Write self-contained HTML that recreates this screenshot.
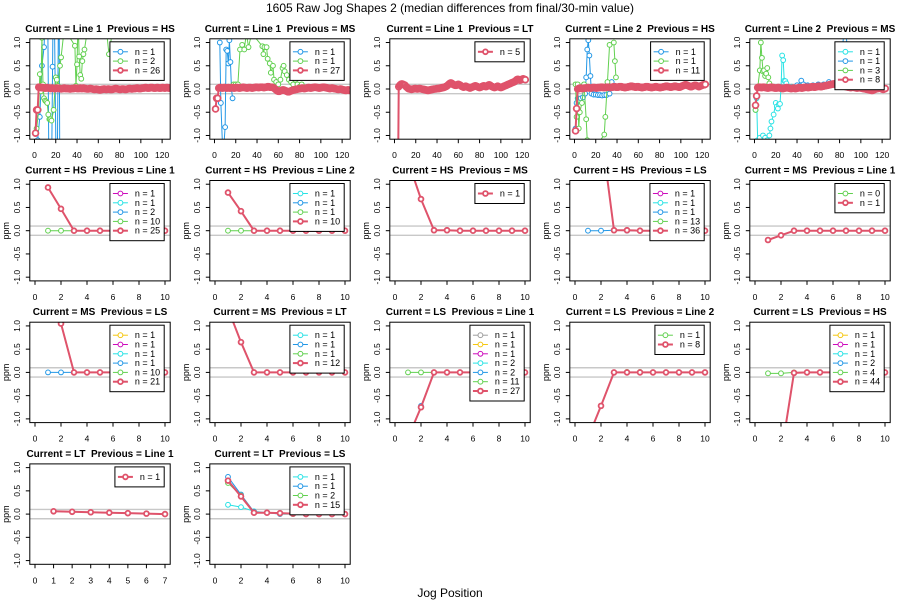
<!DOCTYPE html>
<html><head><meta charset="utf-8"><style>
html,body{margin:0;padding:0;background:#fff}
svg{display:block;font-family:"Liberation Sans",sans-serif}
</style></head><body>
<svg id="chart" width="900" height="600" viewBox="0 0 900 600">
<text x="450" y="12" text-anchor="middle" font-size="12">1605 Raw Jog Shapes 2 (median differences from final/30-min value)</text>
<text x="450" y="597" text-anchor="middle" font-size="12">Jog Position</text>
</svg>
<script>
// ---------- data ----------
const yTicks = [-1, -0.5, 0, 0.5, 1];
const yTickLabels = ["-1.0", "-0.5", "0.0", "0.5", "1.0"];
const xTicksLong = [0, 20, 40, 60, 80, 100, 120];
const xTicksShort = [0, 2, 4, 6, 8, 10];
const xTicksSeven = [0, 1, 2, 3, 4, 5, 6, 7];
const refLines = [-0.1, 0.1];

// row 1 dense red series (hundredths, positions 1..n)
const p1Red = [-95,-45,-45,4,4,3,3,3,2,2,2,3,2,2,1,2,2,1,1,1,2,2,1,1,0,1,1,2,1,1,1,1,0,0,1,1,1,2,2,1,1,1,2,1,1,2,1,1,0,0,0,1,1,0,0,-1,-1,0,-1,-1,-2,-2,-1,-1,0,0,-1,-1,0,0,-1,-1,-1,0,0,1,1,0,0,-1,-1,0,0,0,-1,-1,0,0,1,1,0,0,1,1,1,2,2,1,1,1,2,2,2,3,3,2,2,2,3,3,3,2,2,2,3,3,2,2,2,3,3,2,2,3,3,2,2,2,1,1];
const p2Red = [-43,-20,-20,2,3,3,2,2,3,3,2,2,3,2,2,3,3,2,2,3,3,3,2,2,3,3,4,3,3,2,2,3,3,3,2,2,3,3,4,4,3,3,4,4,4,3,3,4,4,5,5,4,4,4,3,2,0,-2,-4,-5,-5,-4,-3,-2,-2,-3,-4,-5,-6,-6,-5,-4,-3,-2,-2,-1,-1,0,0,1,1,2,2,1,1,2,2,3,3,2,2,3,3,4,4,3,3,2,2,3,3,4,4,3,3,2,2,1,1,2,2,1,1,0,0,-1,-1,0,0,-1,-2,-2,-3,-3,-2,-2,-3,-3,-2];
const p3Red = [-300,-300,-300,5,8,10,11,10,9,8,5,3,1,0,0,-1,0,0,1,1,0,0,1,1,0,0,-1,-1,-2,-2,-3,-3,-2,-2,-1,-1,0,0,0,1,1,1,2,2,3,3,4,5,6,8,10,12,13,12,10,9,8,8,9,10,9,8,6,5,4,5,6,5,4,3,2,3,4,5,6,7,6,5,4,3,4,5,6,7,6,5,6,8,9,8,6,5,4,3,4,5,6,5,4,3,4,5,6,7,8,9,10,11,12,13,14,15,16,18,20,21,20,19,20,21,22,21,20];
const p4Red = [-90,-42,0,1,2,2,1,1,2,2,2,3,3,2,2,2,3,3,3,2,2,3,3,3,4,4,3,3,3,4,4,4,3,3,4,4,5,5,4,4,4,5,5,5,4,4,3,3,4,4,5,5,6,6,5,5,4,4,5,5,4,4,3,3,4,4,5,5,5,4,4,3,3,4,4,5,5,4,4,3,3,4,4,5,5,6,6,5,5,4,4,5,5,6,6,5,5,4,4,5,6,7,8,9,9,8,7,6,5,5,6,7,8,8,7,6,5,6,7,8,9,9,10];
const p5Red = [-35,-15,3,4,4,3,3,4,4,3,3,2,2,3,3,4,3,3,2,2,2,3,3,2,2,1,1,2,2,3,3,2,2,1,1,2,2,1,1,2,2,3,3,2,2,3,3,4,4,3,3,4,4,5,5,4,4,5,5,6,6,5,5,6,6,7,7,8,8,9,9,10,10,11,11,10,10,9,9,8,8,7,7,6,6,5,5,4,4,3,3,4,4,3,3,2,2,3,3,2,2,1,1,0,0,-1,-1,-2,-2,-3,-3,-2,-1,0,1,1,2,2,1,0,-1,0,1];

// row 1 sparse series
const p1BlueX = [3,5,7,9,10,12,14,16,17,18,21,23,24];
const p1BlueY = [-1.1,-0.6,0.5,0.9,1.5,3,-3,-2,0.48,3,-3,3,-3];
const p1GreenX = [2,4,5,6,7,8,9,10,11,12,13,14,15,16,18,20,21,22,24,25,28,38,39,40,41,42,43,44,45,46,47,50,68,70,75,97];
const p1GreenY = [-0.85,-0.45,0.32,-0.05,1.1,0.1,-0.2,-0.25,-0.27,-0.3,-0.55,-0.65,-0.65,-0.68,-0.45,0.25,0.2,0.07,0.5,0.68,1.3,0.93,0.07,0.53,1.5,0.7,0.3,0.22,0.6,0.75,0.85,1.3,1.2,0.75,1.5,1.2];
const p2BlueX = [5,6,8,10,11,12,13,14,15,16,17];
const p2BlueY = [1.0,-0.3,-1.5,-0.82,0.85,0.82,0.55,1.05,0.58,0.0,-0.2];
const p2GreenX = [18,20,22,24,26,28,30,32,35,45,46,47,49,50,52,53,55,56,58,60,62,64,65,66,68,70,72,74,76,78,80,82];
const p2GreenY = [0.1,0.1,0.1,0.85,0.95,0.85,1.2,0.9,1.2,0.92,0.75,0.9,0.9,0.65,0.55,0.35,0.5,0.2,0.15,0.1,0.2,0.45,0.5,0.38,0.3,0.2,0.15,0.1,0.2,0.1,0.05,0.1];
const p4BlueX = [1,2,3,5,6,8,10,11,12,13,14,15,16,18,20,22,24,26,28,30,33,35,36];
const p4BlueY = [-0.85,-0.3,-0.2,-0.25,-0.2,-0.18,-0.1,0.25,0.85,1.05,0.72,0.28,-0.1,-0.12,-0.12,-0.13,-0.13,-0.14,-0.13,-0.13,-0.1,0.15,0.05];
const p4GreenX = [1,2,3,4,5,7,9,11,12,13,28,29,31,33,37,38,39];
const p4GreenY = [0.1,-0.6,0.1,-0.85,-0.5,-0.3,0.1,-0.65,-1.1,-1.5,-0.98,-0.6,0.15,0.95,1.0,0.6,0.25];
const p5CyanX = [1,2,3,5,8,10,12,14,15,16,18,20,21,22,23,24,25,26,27,28,29,30,35,40,45,50];
const p5CyanY = [-0.45,-0.2,-1.1,-1.05,-1.0,-1.05,-1.1,-1.0,-0.85,-0.7,-0.55,-0.3,-0.38,-0.42,-0.33,-0.32,0.05,0.72,0.62,0.18,0.17,0.12,0.05,0.05,0.1,0.05];
const p5BlueX = [40,44,46,50,55,60,65,70,75,80,85,90];
const p5BlueY = [0.08,0.18,0.1,0.08,0.08,0.1,0.1,0.15,0.12,0.1,1.5,0.1];
const p5GreenX = [1,3,5,6,7,8,9,10,11,12,13,14,16];
const p5GreenY = [-0.45,0.02,0.4,1.0,0.67,0.38,0.4,0.28,0.33,0.45,0.25,0.12,0.03];

// rows 2-4 (positions 1..10 or 1..7); null = not drawn
const p6Red = [0.93,0.47,0,0,0,0,0,0,0,0];
const p6Green = [0,0,0,0,0,0,0,0,0,0];
const p7Red = [0.82,0.42,0,0,0,0,0,0,0,0];
const p7Green = [0,0,0,0,0,0,0,0,0,0];
const p8Red = [1.5,0.68,0.01,0.01,0,0,0,0,0,0];
const p9Red = [5,2.16,0.01,0.01,0,0,0,0,0,0];
const p9Blue = [0,0,0.01,0,0,0,0,0,0,0];
const p10Red = [-0.2,-0.1,0,0,0,0,0,0,0,0];
const p11Blue = [0,0,0,0,0,0,0,0,0,0];
const p11Green = [null,1.05,0,0,0,0,0,0,0,0];
const p11Red = [null,1.05,0,0,0,0,0,0,0,0];
const p12Red = [1.37,0.65,0,0,0,0,0,0,0,0];
const p13Green = [0,0,0,0,0,0,0,0,0,0];
const p13Blue = [null,-0.72,0,0,0,0,0,0,0,0];
const p13Red = [-1.41,-0.75,0,0,0,0,0,0,0,0];
const p14Green = [null,-0.72,0,0.01,0.01,0,0,0,0,0];
const p14Red = [-1.41,-0.72,0,0,0,0,0,0,0,0];
const p15Green = [-0.02,-0.02,0,0,0,0,0,0,0,0];
const p15Red = [null,-1.79,-0.01,0,0,0,0,0,0,0];
const p16Red = [0.06,0.05,0.04,0.03,0.02,0.01,0.0];
const p17Cyan = [0.2,0.15,0.06,0.03,0.02,0.01,0,0,0,0];
const p17Blue = [0.8,0.42,0.05,0.03,0,0,0,0,0,0];
const p17Green = [0.67,0.4,0.04,0.03,0.01,0,0,0,0,0];
const p17Red = [0.72,0.38,0.03,0.03,0.02,0.01,0,0,0,0];

// legend counts
const legP1 = [["blue",1],["green",2],["red",26]];
const legP2 = [["blue",1],["green",1],["red",27]];
const legP3 = [["red",5]];
const legP4 = [["blue",1],["green",1],["red",11]];
const legP5 = [["cyan",1],["blue",1],["green",3],["red",8]];
const legP6 = [["magenta",1],["cyan",1],["blue",2],["green",10],["red",25]];
const legP7 = [["cyan",1],["blue",1],["green",1],["red",10]];
const legP8 = [["red",1]];
const legP9 = [["magenta",1],["cyan",1],["blue",1],["green",13],["red",36]];
const legP10 = [["green",0],["red",1]];
const legP11 = [["yellow",1],["magenta",1],["cyan",1],["blue",1],["green",10],["red",21]];
const legP12 = [["cyan",1],["blue",1],["green",1],["red",12]];
const legP13 = [["gray",1],["yellow",1],["magenta",1],["cyan",2],["blue",2],["green",11],["red",27]];
const legP14 = [["green",1],["red",8]];
const legP15 = [["yellow",1],["magenta",1],["cyan",1],["blue",2],["green",4],["red",44]];
const legP16 = [["red",1]];
const legP17 = [["cyan",1],["blue",1],["green",2],["red",15]];

const COLORS = {red:"#DF536B",green:"#61D04F",blue:"#2297E6",cyan:"#28E2E5",magenta:"#CD0BBC",yellow:"#F5C710",gray:"#9E9E9E"};
const seq = a => a.map((v,i)=>i+1);
const hund = a => a.map(v=>v/100);

const panels = [
 {t:"Current = Line 1  Previous = HS",k:"long",leg:legP1,s:[["blue",p1BlueX,p1BlueY],["green",p1GreenX,p1GreenY],["red",seq(p1Red),hund(p1Red)]]},
 {t:"Current = Line 1  Previous = MS",k:"long",leg:legP2,s:[["blue",p2BlueX,p2BlueY],["green",p2GreenX,p2GreenY],["red",seq(p2Red),hund(p2Red)]]},
 {t:"Current = Line 1  Previous = LT",k:"long",leg:legP3,s:[["red",seq(p3Red),hund(p3Red)]]},
 {t:"Current = Line 2  Previous = HS",k:"long",leg:legP4,s:[["blue",p4BlueX,p4BlueY],["green",p4GreenX,p4GreenY],["red",seq(p4Red),hund(p4Red)]]},
 {t:"Current = Line 2  Previous = MS",k:"long",leg:legP5,s:[["cyan",p5CyanX,p5CyanY],["blue",p5BlueX,p5BlueY],["green",p5GreenX,p5GreenY],["red",seq(p5Red),hund(p5Red)]]},
 {t:"Current = HS  Previous = Line 1",k:"short",leg:legP6,s:[["green",seq(p6Green),p6Green],["red",seq(p6Red),p6Red]]},
 {t:"Current = HS  Previous = Line 2",k:"short",leg:legP7,s:[["green",seq(p7Green),p7Green],["red",seq(p7Red),p7Red]]},
 {t:"Current = HS  Previous = MS",k:"short",leg:legP8,s:[["red",seq(p8Red),p8Red]]},
 {t:"Current = HS  Previous = LS",k:"short",leg:legP9,s:[["blue",seq(p9Blue),p9Blue],["red",seq(p9Red),p9Red]]},
 {t:"Current = MS  Previous = Line 1",k:"short",leg:legP10,s:[["red",seq(p10Red),p10Red]]},
 {t:"Current = MS  Previous = LS",k:"short",leg:legP11,s:[["blue",seq(p11Blue),p11Blue],["green",seq(p11Green),p11Green],["red",seq(p11Red),p11Red]]},
 {t:"Current = MS  Previous = LT",k:"short",leg:legP12,s:[["red",seq(p12Red),p12Red]]},
 {t:"Current = LS  Previous = Line 1",k:"short",leg:legP13,s:[["green",seq(p13Green),p13Green],["blue",seq(p13Blue),p13Blue],["red",seq(p13Red),p13Red]]},
 {t:"Current = LS  Previous = Line 2",k:"short",leg:legP14,s:[["green",seq(p14Green),p14Green],["red",seq(p14Red),p14Red]]},
 {t:"Current = LS  Previous = HS",k:"short",leg:legP15,s:[["green",seq(p15Green),p15Green],["red",seq(p15Red),p15Red]]},
 {t:"Current = LT  Previous = Line 1",k:"seven",leg:legP16,s:[["red",seq(p16Red),p16Red]]},
 {t:"Current = LT  Previous = LS",k:"short",leg:legP17,s:[["cyan",seq(p17Cyan),p17Cyan],["blue",seq(p17Blue),p17Blue],["green",seq(p17Green),p17Green],["red",seq(p17Red),p17Red]]}
];

// ---------- drawing ----------
const NS = "http://www.w3.org/2000/svg";
const svg = document.getElementById("chart");
function mk(tag, attrs, parent){
  const e = document.createElementNS(NS, tag);
  for (const k in attrs) e.setAttribute(k, attrs[k]);
  (parent||svg).appendChild(e);
  return e;
}
const XDOM = {long:[-4.4,127.6,xTicksLong], short:[-0.4,10.4,xTicksShort], seven:[-0.28,7.28,xTicksSeven]};
const W = 140.4, H = 100.4, YMIN = -1.08, YMAX = 1.08;

panels.forEach((p, idx) => {
  const col = idx % 5, row = Math.floor(idx / 5);
  const L = 29.8 + 180*col, zero = 89 + 141.7*row, T = zero - H/2, B = T + H, R = L + W;
  const [x0, x1, ticks] = XDOM[p.k];
  const xs = v => L + (v - x0) / (x1 - x0) * W;
  const ys = v => B - (v - YMIN) / (YMAX - YMIN) * H;
  const g = mk("g", {});
  
  
  const cid = "clip" + idx;
  const cp = mk("clipPath", {id: cid}, g);
  mk("rect", {x: L, y: T, width: W, height: H}, cp);

  const title = mk("text", {x: (L+R)/2, y: T - 7, "text-anchor": "middle", "font-size": "10", "font-weight": "bold", style: "white-space:pre"}, g);
  title.textContent = p.t;
  
  

  const yl = mk("text", {transform: `translate(${L-21},${zero}) rotate(-90)`, "text-anchor": "middle", "font-size": "9"}, g);
  yl.textContent = "ppm";
  
  

  yTicks.forEach((v, i) => {
    const y = ys(v);
    mk("line", {x1: L-4, x2: L, y1: y, y2: y, stroke: "#000", "stroke-width": 1}, g);
    const tl = mk("text", {transform: `translate(${L-10},${y}) rotate(-90)`, "text-anchor": "middle", "font-size": "8.5"}, g);
    tl.textContent = yTickLabels[i];
    
    
  });
  ticks.forEach(v => {
    const x = xs(v);
    mk("line", {x1: x, x2: x, y1: B, y2: B+4, stroke: "#000", "stroke-width": 1}, g);
    const tl = mk("text", {x: x, y: B + 19, "text-anchor": "middle", "font-size": "8.5"}, g);
    tl.textContent = String(v);
    
    
  });

  const pg = mk("g", {"clip-path": `url(#${cid})`}, g);
  refLines.forEach(v => {
    const rl = mk("line", {x1: L, x2: R, y1: ys(v), y2: ys(v), stroke: "#c8c8c8", "stroke-width": 1.4}, pg);
    
    
  });

  p.s.forEach(([c, X, Y]) => {
    const thick = c === "red";
    const dense = thick && p.k === "long";
    const col = COLORS[c];
    const sg = mk("g", {}, pg);
    
    
    let d = "", pen = false;
    for (let i = 0; i < X.length; i++) {
      if (Y[i] === null || Y[i] === undefined) { pen = false; continue; }
      d += (pen ? "L" : "M") + xs(X[i]).toFixed(2) + " " + ys(Y[i]).toFixed(2);
      pen = true;
    }
    mk("path", {d: d, fill: "none", stroke: col, "stroke-width": thick ? 2 : 1}, sg);
    for (let i = 0; i < X.length; i++) {
      if (Y[i] === null || Y[i] === undefined) continue;
      const pt = mk("circle", {cx: xs(X[i]), cy: ys(Y[i]), r: dense ? 2.9 : 2.4, fill: "#fff", stroke: col, "stroke-width": thick ? 1.8 : 1}, sg);
      
      
    }
  });

  mk("rect", {x: L, y: T, width: W, height: H, fill: "none", stroke: "#000", "stroke-width": 1}, g);

  // legend
  const lg = mk("g", {}, g);
  
  
  const rowH = 9.3, n = p.leg.length, lh = rowH*(n-1) + 20;
  const lbox = mk("rect", {y: T + 3, height: lh, fill: "#fff", stroke: "#000", "stroke-width": 1}, lg);
  let maxW = 0; const texts = [];
  p.leg.forEach(([c, cnt], i) => {
    const tt = mk("text", {y: T + 3 + 10 + i*rowH + 3, "font-size": "9"}, lg);
    tt.textContent = "n = " + cnt;
    
    
    texts.push(tt);
    maxW = Math.max(maxW, tt.getComputedTextLength());
  });
  const lw = 25 + maxW + 4, lx = R - 6 - lw;
  lbox.setAttribute("x", lx); lbox.setAttribute("width", lw);
  p.leg.forEach(([c], i) => {
    const y = T + 3 + 10 + i*rowH;
    const thick = c === "red";
    mk("line", {x1: lx+3, x2: lx+18, y1: y, y2: y, stroke: COLORS[c], "stroke-width": thick ? 2 : 1}, lg);
    mk("circle", {cx: lx+10.5, cy: y, r: 2.4, fill: "#fff", stroke: COLORS[c], "stroke-width": thick ? 1.8 : 1}, lg);
    texts[i].setAttribute("x", lx + 25);
  });
});
</script>
</body></html>
